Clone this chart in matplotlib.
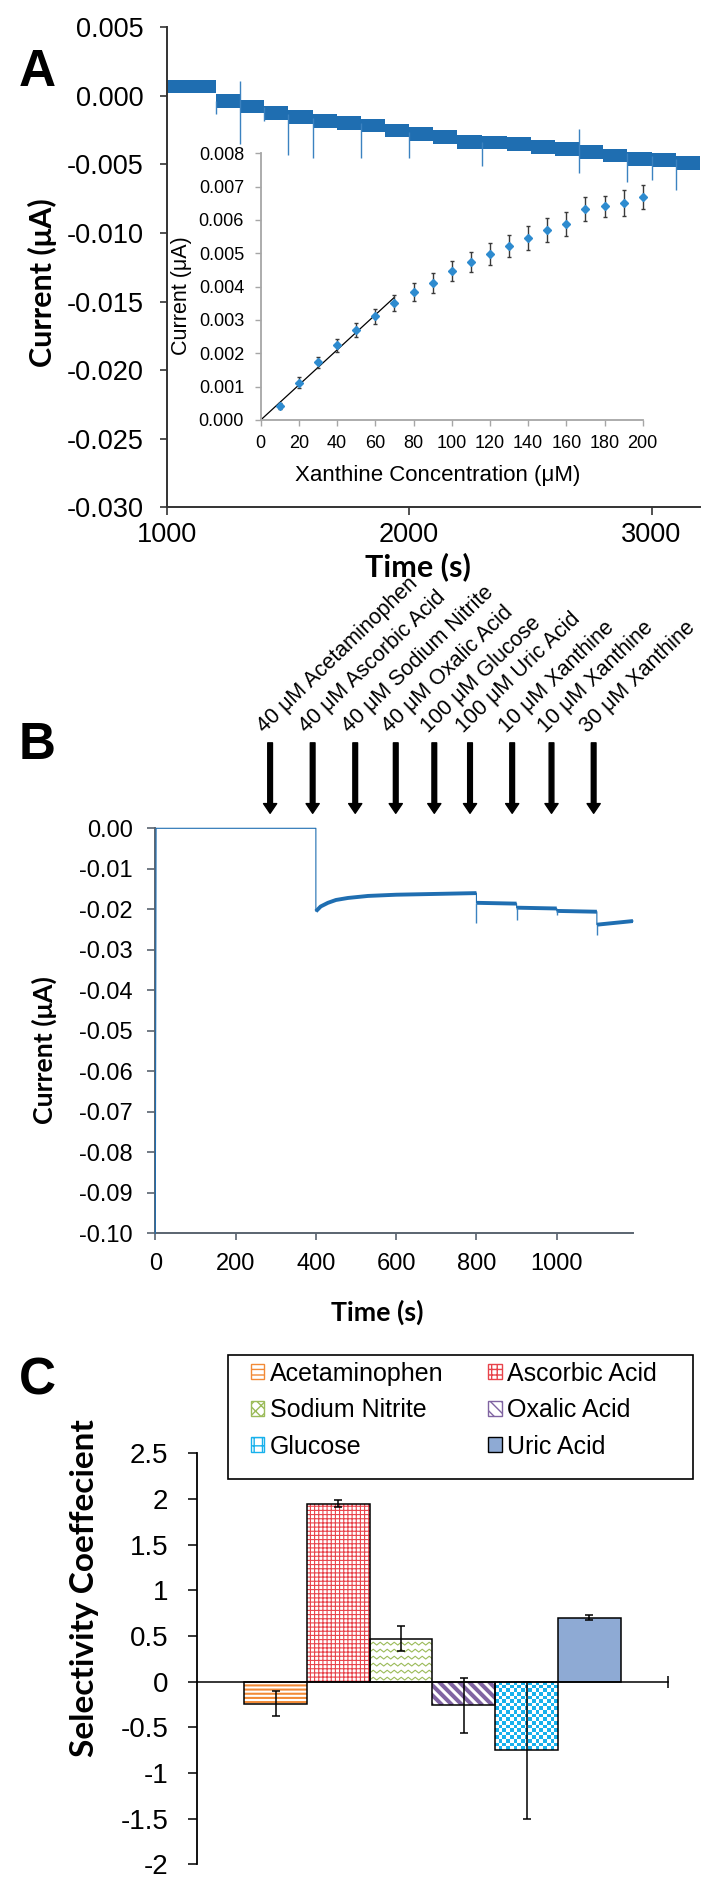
import numpy as np
import matplotlib
matplotlib.use("Agg")
import matplotlib.pyplot as plt
from matplotlib.patches import Patch, Rectangle
from matplotlib.colors import ListedColormap

plt.rcParams['font.family'] = ['Liberation Sans', 'DejaVu Sans']
plt.rcParams['hatch.linewidth'] = 1.0
BOLD = ['Lato', 'Open Sans', 'DejaVu Sans']

# ---------------- panel A: trace (step levels + injection spikes) ----------------
a_step_time = [1000, 1203, 1302, 1401, 1501, 1602, 1701, 1801, 1900, 2000, 2099,
               2197, 2302, 2402, 2502, 2600, 2700, 2800, 2900, 3000, 3099, 3200]
a_step_level = [0.00068, -0.00040, -0.00078, -0.00125, -0.00156, -0.00185, -0.00200,
                -0.00217, -0.00253, -0.00280, -0.00300, -0.00338, -0.00340, -0.00350,
                -0.00375, -0.00390, -0.00410, -0.00435, -0.00460, -0.00470, -0.00490,
                -0.00490]
a_spike_time = [1203, 1302, 1401, 1501, 1602, 1801, 2000, 2302, 2700, 2900, 3000, 3099]
a_spike_high = [-0.0004, 0.0011, -0.0008, -0.0013, -0.0016, -0.0020, -0.0026, -0.0034,
                -0.0024, -0.0042, -0.0044, -0.0046]
a_spike_low = [-0.0013, -0.0035, -0.0018, -0.0043, -0.0045, -0.0045, -0.0045, -0.0051,
               -0.0056, -0.0063, -0.0061, -0.0069]
a_yticks = [-0.030, -0.025, -0.020, -0.015, -0.010, -0.005, 0.000, 0.005]
a_yticklabels = ['-0.030', '-0.025', '-0.020', '-0.015', '-0.010', '-0.005', '0.000', '0.005']

# inset: calibration
in_conc = [10, 20, 30, 40, 50, 60, 70, 80, 90, 100, 110, 120, 130, 140, 150, 160, 170, 180, 190, 200]
in_curr = [0.00042, 0.00112, 0.00173, 0.00224, 0.00269, 0.00311, 0.00350, 0.00384, 0.00411,
           0.00446, 0.00474, 0.00497, 0.00522, 0.00547, 0.00570, 0.00588, 0.00633, 0.00641,
           0.00651, 0.00669]
in_err = [0.00008, 0.00016, 0.00017, 0.00020, 0.00021, 0.00023, 0.00024, 0.00026, 0.00030,
          0.00030, 0.00030, 0.00033, 0.00034, 0.00036, 0.00037, 0.00037, 0.00036, 0.00032,
          0.00040, 0.00037]
fit_conc = [0, 70]
fit_curr = [0.0, 0.00368]

# ---------------- panel B: interference trace ----------------
b_time = [0, 2, 400, 400, 412, 430, 450, 480, 530, 600, 700, 800, 800, 900, 900,
          1000, 1000, 1100, 1100, 1190]
b_curr = [-0.100, 0.000, 0.000, -0.0205, -0.0193, -0.0184, -0.0177, -0.0172, -0.0167,
          -0.0164, -0.0162, -0.0160, -0.0184, -0.0186, -0.0196, -0.0198, -0.0204, -0.0206,
          -0.0238, -0.0229]
b_spike_time = [800, 900, 1000, 1100]
b_spike_top = [-0.0184, -0.0196, -0.0204, -0.0238]
b_spike_low = [-0.0233, -0.0226, -0.0213, -0.0263]
b_arrow_time = [286, 392, 498, 599, 695, 784, 889, 987, 1092]
b_arrow_label = ['40 μM Acetaminophen', '40 μM Ascorbic Acid', '40 μM Sodium Nitrite',
                 '40 μM Oxalic Acid', '100 μM Glucose', '100 μM Uric Acid',
                 '10 μM Xanthine', '10 μM Xanthine', '30 μM Xanthine']
b_yticks = [0.0, -0.01, -0.02, -0.03, -0.04, -0.05, -0.06, -0.07, -0.08, -0.09, -0.10]
b_yticklabels = ['0.00', '-0.01', '-0.02', '-0.03', '-0.04', '-0.05', '-0.06', '-0.07',
                 '-0.08', '-0.09', '-0.10']

# ---------------- panel C: selectivity ----------------
c_names = ['Acetaminophen', 'Ascorbic Acid', 'Sodium Nitrite', 'Oxalic Acid', 'Glucose', 'Uric Acid']
c_vals = [-0.24, 1.95, 0.47, -0.26, -0.75, 0.70]
c_err = [0.14, 0.04, 0.14, 0.30, 0.75, 0.03]
c_yticks = [-2, -1.5, -1, -0.5, 0, 0.5, 1, 1.5, 2, 2.5]
c_yticklabels = ['-2', '-1.5', '-1', '-0.5', '0', '0.5', '1', '1.5', '2', '2.5']

BLUE = '#1f6eb1'
W, H = 721, 1892
fig = plt.figure(figsize=(W / 100, H / 100), dpi=100)


def box(x0, y0, x1, y1):
    return [x0 / W, 1 - y1 / H, (x1 - x0) / W, (y1 - y0) / H]


def text(x, y, s, size, rot=0, family=BOLD, weight='bold'):
    fig.text(x / W, 1 - y / H, s, fontsize=size, rotation=rot, ha='center', va='center',
             family=family, weight=weight)


# ===== A =====
axA = fig.add_axes(box(166.7, 27.3, 700, 507.3))
lvl = np.array(a_step_level)
axA.fill_between(a_step_time, lvl - 0.0005, lvl + 0.0005, step='post', color=BLUE, lw=0)
axA.vlines(a_spike_time, a_spike_low, a_spike_high, color='#3b82c0', lw=1)
axA.set_xlim(1000, 3200)
axA.set_ylim(-0.030, 0.005)
axA.set_xticks([1000, 2000, 3000])
axA.set_yticks(a_yticks, a_yticklabels)
for s in ['top', 'right']:
    axA.spines[s].set_visible(False)
for s in ['left', 'bottom']:
    axA.spines[s].set_color('#333333')
    axA.spines[s].set_linewidth(1.4)
axA.tick_params(axis='y', length=5, width=1.2, color='#333333', labelsize=19.5, pad=11.5)
axA.tick_params(axis='x', length=5.5, width=1.2, color='#333333', labelsize=19.5, pad=5)

axI = fig.add_axes(box(260.7, 153.3, 642.7, 420))
axI.patch.set_visible(False)
axI.plot(fit_conc, fit_curr, color='black', lw=0.9)
axI.errorbar(in_conc, in_curr, yerr=in_err, fmt='D', ms=3.8, color='#2e8bcf',
             ecolor='#3a3a3a', elinewidth=1.0, capsize=1.6, capthick=1.0, clip_on=False)
axI.set_xlim(0, 200)
axI.set_ylim(0, 0.008)
axI.set_xticks(np.arange(0, 201, 20))
axI.set_yticks(np.arange(0, 0.0081, 0.001), ['%.3f' % v for v in np.arange(0, 0.0081, 0.001)])
for s in ['top', 'right']:
    axI.spines[s].set_visible(False)
for s in ['left', 'bottom']:
    axI.spines[s].set_color('#a6a6a6')
    axI.spines[s].set_linewidth(1.3)
axI.tick_params(axis='y', length=4, width=1, color='#a6a6a6', labelsize=13, pad=8)
axI.tick_params(axis='x', length=4, width=1, color='#a6a6a6', labelsize=13, pad=7)

text(37, 73, 'A', 37, family=['Liberation Sans'])
text(42.5, 283, 'Current (μA)', 22, rot=90)
text(418, 567, 'Time (s)', 22)
text(181.7, 296, 'Current (μA)', 15.5, rot=90, family=['Liberation Sans'], weight='normal')
text(437.5, 475, 'Xanthine Concentration (μM)', 16, family=['Liberation Sans'], weight='normal')

# ===== B =====
axB = fig.add_axes(box(155.3, 828.3, 633, 1233.3))
bt = np.array(b_time, float)
bc = np.array(b_curr)
axB.plot(bt, bc, color=BLUE, lw=0.8, clip_on=False, zorder=3)
xs, ys = [], []
for k in range(3, len(bt)):
    if k > 3 and bt[k] == bt[k - 1]:
        xs.append(np.nan)
        ys.append(np.nan)
    xs.append(bt[k])
    ys.append(bc[k])
axB.plot(xs, ys, color=BLUE, lw=2.8, solid_capstyle='butt', zorder=3)
axB.vlines(b_spike_time, b_spike_low, b_spike_top, color='#3b82c0', lw=1, zorder=3)
axB.set_xlim(0, 1190)
axB.set_ylim(-0.10, 0.0)
axB.set_xticks(np.arange(0, 1001, 200))
axB.set_yticks(b_yticks, b_yticklabels)
for s in ['top', 'right']:
    axB.spines[s].set_visible(False)
for s in ['left', 'bottom']:
    axB.spines[s].set_color('#5a6470')
    axB.spines[s].set_linewidth(1.4)
axB.tick_params(axis='y', length=6, width=1.2, color='#5a6470', labelsize=17, pad=10)
axB.tick_params(axis='x', length=5, width=1.2, color='#5a6470', labelsize=17, pad=9)

for t, lab in zip(b_arrow_time, b_arrow_label):
    axB.annotate('', xy=(t, 0.0037), xytext=(t, 0.0211), annotation_clip=False,
                 arrowprops=dict(facecolor='black', edgecolor='black', width=3.4,
                                 headwidth=9.5, headlength=7, shrink=0))
    axB.annotate(lab, xy=(t, 0.0211), xytext=(-6, 9), textcoords='offset pixels',
                 rotation=44, rotation_mode='anchor', ha='left', va='baseline',
                 fontsize=15.5, annotation_clip=False)

text(37, 745, 'B', 37, family=['Liberation Sans'])
text(44, 1050, 'Current (μA)', 19.3, rot=90)
text(377, 1312, 'Time (s)', 19.3)

# ===== C =====
axC = fig.add_axes(box(196.7, 1453.3, 668.3, 1864.3))
c_x = np.arange(len(c_vals))
XL = (-1.256, 6.256)
axC.set_xlim(*XL)
axC.set_ylim(-2, 2.5)
p0 = axC.transData.transform((0, 0))
p1 = axC.transData.transform((1, 1))
sx = 1 / (p1[0] - p0[0])   # data units per pixel
sy = 1 / (p1[1] - p0[1])

fills = axC.bar(c_x, c_vals, 1.0, color='white', lw=0, zorder=1)

styles = [('hatch', '#f28a36', '----', 1.5), ('hatch', '#e8434b', '++++', 0.8),
          ('zigzag', '#9bbb59'), ('diag', '#8064a2'), ('checker', '#17b1ec'),
          ('solid', '#8eaad4')]

for p, st, xc, v in zip(fills, styles, c_x, c_vals):
    x0, x1 = xc - 0.5, xc + 0.5
    ylo, yhi = min(0, v), max(0, v)
    wp = (x1 - x0) / sx
    hp = (yhi - ylo) / sy
    if st[0] == 'hatch':
        p.set_hatch(st[2])
        p.set_edgecolor(st[1])
        if hasattr(p, 'set_hatch_linewidth'):
            p.set_hatch_linewidth(st[3])
    elif st[0] == 'solid':
        p.set_facecolor(st[1])
    elif st[0] == 'zigzag':
        xs = np.arange(x0, x1 + 8 * sx, 3.5 * sx)
        sign = np.where(np.arange(len(xs)) % 2 == 0, -1.4, 1.4)
        for r in np.arange(ylo + 3 * sy, yhi, 7 * sy):
            ln, = axC.plot(xs, r + sign * sy, color=st[1], lw=0.8, zorder=2)
            ln.set_clip_path(p)
    elif st[0] == 'diag':
        for s0 in np.arange(-hp, wp + 10, 10):
            ln, = axC.plot([x0 + s0 * sx, x0 + (s0 + hp) * sx], [yhi, ylo],
                           color=st[1], lw=2.9, solid_capstyle='butt', zorder=2)
            ln.set_clip_path(p)
    elif st[0] == 'checker':
        nc = max(1, int(round(wp / 3.6)))
        nr = max(1, int(round(hp / 3.6)))
        pat = np.indices((nr, nc)).sum(axis=0) % 2
        im = axC.imshow(pat, extent=(x0, x1, ylo, yhi), aspect='auto',
                        cmap=ListedColormap(['white', st[1]]), interpolation='nearest', zorder=2)
        im.set_clip_path(p)

axC.bar(c_x, c_vals, 1.0, fill=False, edgecolor='black', lw=1.1, zorder=3)
axC.errorbar(c_x, c_vals, yerr=c_err, fmt='none', ecolor='black', elinewidth=1.1,
             capsize=3, capthick=1.1, zorder=4)
axC.set_xlim(*XL)
axC.set_ylim(-2, 2.5)
axC.set_yticks(c_yticks, c_yticklabels)
axC.set_xticks([XL[1]])
axC.tick_params(axis='x', direction='inout', length=9, width=1.1, labelbottom=False)
axC.tick_params(axis='y', length=6.5, width=1.1, labelsize=20, pad=14)
axC.spines['top'].set_visible(False)
axC.spines['right'].set_visible(False)
axC.spines['bottom'].set_position(('data', 0))
axC.spines['bottom'].set_linewidth(1.1)
axC.spines['left'].set_linewidth(1.3)

handles = [Patch(facecolor='white', edgecolor='#f28a36', hatch='---'),
           Patch(facecolor='white', edgecolor='#e8434b', hatch='+++'),
           Patch(facecolor='white', edgecolor='#9bbb59', hatch='xxx'),
           Patch(facecolor='white', edgecolor='#8064a2', hatch='\\\\\\'),
           Patch(facecolor='white', edgecolor='#17b1ec', hatch='++'),
           Patch(facecolor='#8eaad4', edgecolor='black')]
order = [0, 2, 4, 1, 3, 5]
fig.legend([handles[i] for i in order], [c_names[i] for i in order], loc='upper left',
           bbox_to_anchor=(251 / W, 1 - 1361.6 / H), ncol=2, frameon=False, fontsize=18,
           borderpad=0, borderaxespad=0, handlelength=0.53, handleheight=0.53,
           handletextpad=0.22, columnspacing=1.8, labelspacing=0.5)
fig.add_artist(Rectangle((227.7 / W, 1 - 1479.3 / H), (692.7 - 227.7) / W, (1479.3 - 1355) / H,
                         transform=fig.transFigure, fill=False, edgecolor='black', lw=1.2))

text(37, 1381, 'C', 37, family=['Liberation Sans'])
text(85, 1588, 'Selectivity Coeffecient', 24, rot=90)

fig.savefig('out.png', dpi=100)
